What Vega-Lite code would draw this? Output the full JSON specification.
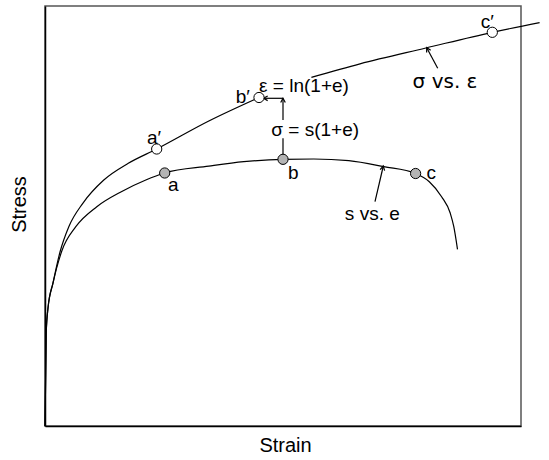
{
  "$schema": "https://vega.github.io/schema/vega-lite/v6.json",
  "width": 476,
  "height": 420,
  "autosize": {"type": "none"},
  "padding": {"left": 45, "top": 6, "right": 28, "bottom": 34},
  "background": "white",
  "config": {
    "view": {"stroke": "#555555", "strokeWidth": 1.5},
    "font": "Liberation Sans"
  },
  "datasets": {
    "curves": [
      {"seg": "eng", "i": 0, "x": 0, "y": 0},
      {"seg": "eng", "i": 1, "x": 1.2, "y": 93},
      {"seg": "eng", "i": 2, "x": 3, "y": 118},
      {"seg": "eng", "i": 3, "x": 8, "y": 143},
      {"seg": "eng", "i": 4, "x": 16.8, "y": 175},
      {"seg": "eng", "i": 5, "x": 30.8, "y": 199.3},
      {"seg": "eng", "i": 6, "x": 51.8, "y": 219.3},
      {"seg": "eng", "i": 7, "x": 76.3, "y": 234.3},
      {"seg": "eng", "i": 8, "x": 100.8, "y": 246},
      {"seg": "eng", "i": 9, "x": 119.7, "y": 253},
      {"seg": "eng", "i": 10, "x": 163.8, "y": 259.8},
      {"seg": "eng", "i": 11, "x": 198.8, "y": 264.3},
      {"seg": "eng", "i": 12, "x": 238, "y": 266.7},
      {"seg": "eng", "i": 13, "x": 268.8, "y": 267},
      {"seg": "eng", "i": 14, "x": 303.8, "y": 265.3},
      {"seg": "eng", "i": 15, "x": 338.8, "y": 259.3},
      {"seg": "eng", "i": 16, "x": 370.6, "y": 252.5},
      {"seg": "eng", "i": 17, "x": 384.3, "y": 244.3},
      {"seg": "eng", "i": 18, "x": 396.6, "y": 229.3},
      {"seg": "eng", "i": 19, "x": 405.3, "y": 212.7},
      {"seg": "eng", "i": 20, "x": 408.8, "y": 199.3},
      {"seg": "eng", "i": 21, "x": 412.5, "y": 176.7},
      {"seg": "true1", "i": 0, "x": 0, "y": 0},
      {"seg": "true1", "i": 1, "x": 1.2, "y": 93},
      {"seg": "true1", "i": 2, "x": 3, "y": 118},
      {"seg": "true1", "i": 3, "x": 8, "y": 143},
      {"seg": "true1", "i": 4, "x": 15, "y": 174},
      {"seg": "true1", "i": 5, "x": 23.8, "y": 199.3},
      {"seg": "true1", "i": 6, "x": 37.8, "y": 222.7},
      {"seg": "true1", "i": 7, "x": 58.8, "y": 246},
      {"seg": "true1", "i": 8, "x": 83.3, "y": 262.7},
      {"seg": "true1", "i": 9, "x": 111.7, "y": 277},
      {"seg": "true1", "i": 10, "x": 163.8, "y": 305},
      {"seg": "true1", "i": 11, "x": 214, "y": 328.5},
      {"seg": "true2", "i": 0, "x": 266.4, "y": 348.7},
      {"seg": "true2", "i": 1, "x": 315, "y": 362.2},
      {"seg": "true2", "i": 2, "x": 380.8, "y": 378},
      {"seg": "true2", "i": 3, "x": 447.3, "y": 393.7},
      {"seg": "true2", "i": 4, "x": 494.6, "y": 403.3}
    ],
    "arrows": [
      {"seg": "vert1", "i": 0, "x": 238, "y": 267},
      {"seg": "vert1", "i": 1, "x": 238, "y": 287.7},
      {"seg": "vert2", "i": 0, "x": 238, "y": 306},
      {"seg": "vert2", "i": 1, "x": 238, "y": 327.7},
      {"seg": "horiz", "i": 0, "x": 238, "y": 327.7},
      {"seg": "horiz", "i": 1, "x": 218.5, "y": 327.7},
      {"seg": "arr1", "i": 0, "x": 392.7, "y": 357.7},
      {"seg": "arr1", "i": 1, "x": 381.7, "y": 378.3},
      {"seg": "arr2", "i": 0, "x": 330, "y": 224.3},
      {"seg": "arr2", "i": 1, "x": 338.3, "y": 260}
    ],
    "heads": [
      {"x": 238, "y": 327.7, "angle": 0},
      {"x": 218.5, "y": 327.7, "angle": 270},
      {"x": 381.7, "y": 378.3, "angle": 332},
      {"x": 338.3, "y": 260, "angle": 13}
    ],
    "dots": [
      {"x": 119.7, "y": 253, "kind": "filled"},
      {"x": 238, "y": 266.7, "kind": "filled"},
      {"x": 370.6, "y": 252.5, "kind": "filled"},
      {"x": 111.7, "y": 277, "kind": "open"},
      {"x": 214, "y": 328.5, "kind": "open"},
      {"x": 447.3, "y": 393.7, "kind": "open"}
    ],
    "labels": [
      {"x": 128.3, "y": 241, "text": "a"},
      {"x": 248.3, "y": 252.7, "text": "b"},
      {"x": 386.3, "y": 253.3, "text": "c"},
      {"x": 109, "y": 288, "text": "a′"},
      {"x": 197.7, "y": 329, "text": "b′"},
      {"x": 442.3, "y": 404.3, "text": "c′"},
      {"x": 259, "y": 340, "text": "ε = ln(1+e)"},
      {"x": 270.2, "y": 296, "text": "σ = s(1+e)"},
      {"x": 327.3, "y": 212.3, "text": "s vs. e"}
    ],
    "biglabels": [
      {"x": 400, "y": 344.3, "text": "σ vs. ε"}
    ]
  },
  "layer": [
    {
      "data": {"name": "curves"},
      "mark": {"type": "line", "color": "black", "strokeWidth": 1.2, "interpolate": "monotone"},
      "encoding": {
        "x": {
          "field": "x", "type": "quantitative",
          "scale": {"domain": [0, 476], "nice": false, "zero": false},
          "axis": {
            "title": "Strain", "labels": false, "ticks": false, "grid": false,
            "domainColor": "black", "domainWidth": 1.5,
            "titleFontSize": 20, "titleFontWeight": "normal", "titleColor": "black",
            "titleFont": "Liberation Sans",
            "titleX": 240, "titleY": 19, "titleBaseline": "middle"
          }
        },
        "y": {
          "field": "y", "type": "quantitative",
          "scale": {"domain": [0, 420], "nice": false, "zero": false},
          "axis": {
            "title": "Stress", "labels": false, "ticks": false, "grid": false,
            "domainColor": "black", "domainWidth": 1.5,
            "titleFontSize": 20, "titleFontWeight": "normal", "titleColor": "black",
            "titleFont": "Liberation Sans",
            "titleX": -26, "titleY": 198, "titleBaseline": "middle", "titleAngle": -90
          }
        },
        "detail": {"field": "seg"},
        "order": {"field": "i"}
      }
    },
    {
      "data": {"name": "arrows"},
      "mark": {"type": "line", "color": "black", "strokeWidth": 1.2},
      "encoding": {
        "x": {"field": "x", "type": "quantitative", "scale": {"domain": [0, 476], "nice": false, "zero": false}},
        "y": {"field": "y", "type": "quantitative", "scale": {"domain": [0, 420], "nice": false, "zero": false}},
        "detail": {"field": "seg"},
        "order": {"field": "i"}
      }
    },
    {
      "data": {"name": "heads"},
      "mark": {"type": "point", "shape": "M-0.55,1L0,0L0.55,1", "filled": false, "stroke": "black", "strokeWidth": 1.2, "size": 70, "opacity": 1},
      "encoding": {
        "x": {"field": "x", "type": "quantitative", "scale": {"domain": [0, 476], "nice": false, "zero": false}},
        "y": {"field": "y", "type": "quantitative", "scale": {"domain": [0, 420], "nice": false, "zero": false}},
        "angle": {"field": "angle", "type": "quantitative", "scale": null}
      }
    },
    {
      "data": {"name": "dots"},
      "mark": {"type": "point", "shape": "circle", "filled": true, "stroke": "black", "strokeWidth": 1, "size": 105, "opacity": 1},
      "encoding": {
        "x": {"field": "x", "type": "quantitative", "scale": {"domain": [0, 476], "nice": false, "zero": false}},
        "y": {"field": "y", "type": "quantitative", "scale": {"domain": [0, 420], "nice": false, "zero": false}},
        "fill": {"field": "kind", "type": "nominal", "scale": {"domain": ["filled", "open"], "range": ["#b4b4b4", "white"]}, "legend": null}
      }
    },
    {
      "data": {"name": "labels"},
      "mark": {"type": "text", "font": "Liberation Sans", "fontSize": 19, "color": "black", "align": "center", "baseline": "middle"},
      "encoding": {
        "x": {"field": "x", "type": "quantitative", "scale": {"domain": [0, 476], "nice": false, "zero": false}},
        "y": {"field": "y", "type": "quantitative", "scale": {"domain": [0, 420], "nice": false, "zero": false}},
        "text": {"field": "text", "type": "nominal"}
      }
    },
    {
      "data": {"name": "biglabels"},
      "mark": {"type": "text", "font": "DejaVu Sans", "fontSize": 20, "color": "black", "align": "center", "baseline": "middle"},
      "encoding": {
        "x": {"field": "x", "type": "quantitative", "scale": {"domain": [0, 476], "nice": false, "zero": false}},
        "y": {"field": "y", "type": "quantitative", "scale": {"domain": [0, 420], "nice": false, "zero": false}},
        "text": {"field": "text", "type": "nominal"}
      }
    }
  ]
}
